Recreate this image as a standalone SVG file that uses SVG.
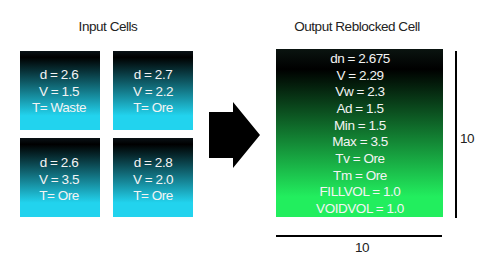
<svg xmlns="http://www.w3.org/2000/svg" width="492" height="266" viewBox="0 0 492 266">
  <defs>
    <linearGradient id="cyan" x1="0" y1="0" x2="0" y2="1">
      <stop offset="0" stop-color="#0a1216"/>
      <stop offset="0.08" stop-color="#000000"/>
      <stop offset="0.82" stop-color="#22d3ee"/>
      <stop offset="1" stop-color="#22d3ee"/>
    </linearGradient>
    <linearGradient id="green" x1="0" y1="0" x2="0" y2="1">
      <stop offset="0" stop-color="#0a1410"/>
      <stop offset="0.12" stop-color="#000000"/>
      <stop offset="0.88" stop-color="#22ee5e"/>
      <stop offset="1" stop-color="#22ee5e"/>
    </linearGradient>
    <style>
      text { font-family: "Liberation Sans", Arial, sans-serif; font-size: 13.5px; letter-spacing: -0.45px; text-anchor: middle; }
      .title { fill: #222222; }
      .cell text { fill: #f4f4f4; }
      .dim { fill: #222222; }
    </style>
  </defs>

  <text class="title" x="108" y="31">Input Cells</text>
  <text class="title" x="357" y="31">Output Reblocked Cell</text>

  <g id="cell1" class="cell">
    <rect x="20" y="51" width="80" height="79" fill="url(#cyan)"/>
    <text x="59" y="79">d = 2.6</text>
    <text x="59" y="96">V = 1.5</text>
    <text x="59" y="112">T= Waste</text>
  </g>
  <g id="cell2" class="cell">
    <rect x="113" y="51" width="80" height="79" fill="url(#cyan)"/>
    <text x="153" y="79">d = 2.7</text>
    <text x="153" y="96">V = 2.2</text>
    <text x="153" y="112">T= Ore</text>
  </g>
  <g id="cell3" class="cell">
    <rect x="20" y="138" width="80" height="79" fill="url(#cyan)"/>
    <text x="59" y="167">d = 2.6</text>
    <text x="59" y="184">V = 3.5</text>
    <text x="59" y="200">T= Ore</text>
  </g>
  <g id="cell4" class="cell">
    <rect x="113" y="138" width="80" height="79" fill="url(#cyan)"/>
    <text x="153" y="167">d = 2.8</text>
    <text x="153" y="184">V = 2.0</text>
    <text x="153" y="200">T= Ore</text>
  </g>

  <g id="connectors">
    <polygon points="209,112 233,112 233,102 260,135 233,168 233,158 209,158" fill="#000000"/>
  </g>

  <g id="output" class="cell">
    <rect x="276" y="49" width="167" height="168" fill="url(#green)"/>
    <text x="360" y="63">dn = 2.675</text>
    <text x="360" y="79.7">V = 2.29</text>
    <text x="360" y="96.3">Vw = 2.3</text>
    <text x="360" y="113">Ad = 1.5</text>
    <text x="360" y="129.7">Min = 1.5</text>
    <text x="360" y="146.3">Max = 3.5</text>
    <text x="360" y="163">Tv = Ore</text>
    <text x="360" y="179.7">Tm = Ore</text>
    <text x="360" y="196.3">FILLVOL = 1.0</text>
    <text x="360" y="213">VOIDVOL = 1.0</text>
  </g>

  <g id="dimensions">
    <line x1="456" y1="51" x2="456" y2="218" stroke="#000" stroke-width="2"/>
    <text class="dim" x="467" y="143">10</text>
    <line x1="276" y1="236" x2="442" y2="236" stroke="#000" stroke-width="2"/>
    <text class="dim" x="362" y="252">10</text>
  </g>
</svg>
